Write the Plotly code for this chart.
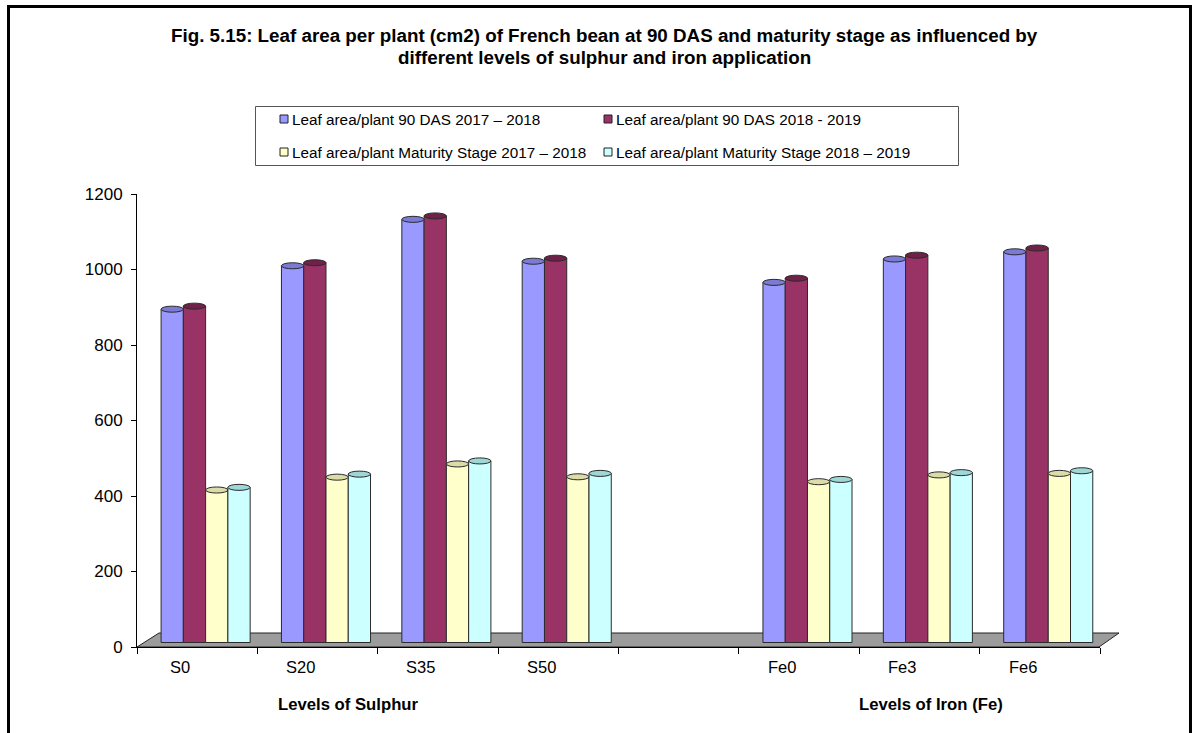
import plotly.graph_objects as go

# ---------------- data ----------------
categories = ["S0", "S20", "S35", "S50", " ", "Fe0", "Fe3", "Fe6"]
series_names = [
    "Leaf area/plant 90 DAS 2017 \u2013 2018",
    "Leaf area/plant 90 DAS 2018 - 2019",
    "Leaf area/plant Maturity Stage 2017 \u2013 2018",
    "Leaf area/plant Maturity Stage 2018 \u2013 2019",
]
das90_2017 = [883, 998, 1121, 1010, None, 954, 1016, 1035]
das90_2018 = [891, 1006, 1130, 1018, None, 965, 1026, 1045]
mat_2017 = [404, 438, 473, 439, None, 426, 444, 448]
mat_2018 = [411, 446, 481, 448, None, 432, 450, 455]
y_ticks = [0, 200, 400, 600, 800, 1000, 1200]
group_titles = ["Levels of Sulphur", "Levels of Iron (Fe)"]

colors = ["#9999FF", "#993366", "#FFFFCC", "#CCFFFF"]
cap_colors = ["#7B7BD6", "#6F2149", "#DCDCA8", "#9FD6D6"]
offsets = [-0.30, -0.115, 0.07, 0.255]
bar_w = 0.185

W, H = 1202, 733
L, R, T, B = 137, 1202 - 1100, 194, 733 - 647
PW, PH = W - L - R, H - T - B


def px(x):
    return (x - L) / PW


def py(y):
    return (H - B - y) / PH


font_family = "Arial, Liberation Sans, sans-serif"
all_series = [das90_2017, das90_2018, mat_2017, mat_2018]

fig = go.Figure()
# carrier for the visible value axis
fig.add_trace(go.Scatter(x=categories, y=[None] * len(categories), mode="markers",
                         showlegend=False, hoverinfo="skip", yaxis="y"))
for name, vals, col, off in zip(series_names, all_series, colors, offsets):
    fig.add_trace(go.Bar(
        x=categories, y=vals, name=name, yaxis="y2",
        offset=off, width=bar_w,
        marker=dict(color=col, line=dict(color="#2b2b2b", width=1)),
        showlegend=False,
    ))

shapes = []
# outer frame
shapes.append(dict(type="rect", xref="paper", yref="paper",
                   x0=px(8.5), x1=px(1190.5), y0=py(745), y1=py(6.5),
                   line=dict(color="black", width=3), fillcolor="rgba(0,0,0,0)", layer="above"))
# floor
shapes.append(dict(type="path", xref="paper", yref="paper",
                   path=f"M {px(137)},{py(647)} L {px(1099)},{py(647)} L {px(1119)},{py(633)} L {px(159)},{py(633)} Z",
                   fillcolor="#9C9C9C", line=dict(color="#222222", width=1), layer="below"))
# cylinder caps
cap_half = 8
for vals, cc, off in zip(all_series, cap_colors, offsets):
    for i, v in enumerate(vals):
        if v is None:
            continue
        shapes.append(dict(type="circle", xref="x", yref="y2",
                           x0=i + off, x1=i + off + bar_w, y0=v - cap_half, y1=v + cap_half,
                           fillcolor=cc, line=dict(color="#2b2b2b", width=1), layer="above"))
# legend box
shapes.append(dict(type="rect", xref="paper", yref="paper",
                   x0=px(255.5), x1=px(958.5), y0=py(165.5), y1=py(106.5),
                   line=dict(color="#555555", width=1), fillcolor="white", layer="above"))

annotations = []
leg_pos = [(280, 119), (604, 119), (280, 152), (604, 152)]
for (lx, ly), col, name in zip(leg_pos, colors, series_names):
    shapes.append(dict(type="rect", xref="paper", yref="paper",
                       x0=px(lx), x1=px(lx + 8), y0=py(ly + 4), y1=py(ly - 4),
                       line=dict(color="#222222", width=1), fillcolor=col, layer="above"))
    annotations.append(dict(xref="paper", yref="paper", x=px(lx + 10), y=py(ly),
                            xanchor="left", yanchor="middle", showarrow=False,
                            text=name, font=dict(family=font_family, size=15.3, color="black")))

title_lines = [
    "Fig. 5.15: Leaf area per plant (cm2) of French bean at 90 DAS and maturity stage as influenced by",
    "different levels of sulphur and iron application",
]
for line, ty in zip(title_lines, [35, 57]):
    annotations.append(dict(xref="paper", yref="paper", x=px(604), y=py(ty),
                            xanchor="center", yanchor="middle", showarrow=False,
                            text=f"<b>{line}</b>", font=dict(family=font_family, size=18.8, color="black")))

# category labels (drawn at the front edge of the floor, shifted left)
for c in categories:
    if c.strip():
        annotations.append(dict(xref="x", yref="paper", x=c, y=py(667), xshift=-17,
                                xanchor="center", yanchor="middle", showarrow=False,
                                text=c, font=dict(family=font_family, size=16.5, color="black")))

for txt, ax in zip(group_titles, [348, 931]):
    annotations.append(dict(xref="paper", yref="paper", x=px(ax), y=py(704),
                            xanchor="center", yanchor="middle", showarrow=False,
                            text=f"<b>{txt}</b>", font=dict(family=font_family, size=16.7, color="black")))

fig.update_layout(
    width=W, height=H,
    margin=dict(l=L, r=R, t=T, b=B, pad=0),
    paper_bgcolor="white", plot_bgcolor="white",
    barmode="overlay",
    showlegend=False,
    font=dict(family=font_family, size=16, color="black"),
    xaxis=dict(
        type="category", categoryorder="array", categoryarray=categories,
        range=[-0.5, len(categories) - 0.5],
        showline=True, linecolor="black", linewidth=1,
        ticks="outside", tickson="boundaries", ticklen=6, tickcolor="black",
        showticklabels=False,
        showgrid=False, zeroline=False, fixedrange=True,
    ),
    yaxis=dict(
        range=[0, 1200], tickvals=y_ticks,
        showline=True, linecolor="black", linewidth=1,
        ticks="outside", ticklen=5, tickcolor="black",
        showgrid=False, zeroline=False, ticklabelstandoff=5,
        tickfont=dict(family=font_family, size=17, color="black"),
    ),
    yaxis2=dict(
        overlaying="y", range=[-11.9, 1188.1], visible=False,
        showgrid=False, zeroline=False,
    ),
    shapes=shapes,
    annotations=annotations,
)

fig.write_html("out.html")
